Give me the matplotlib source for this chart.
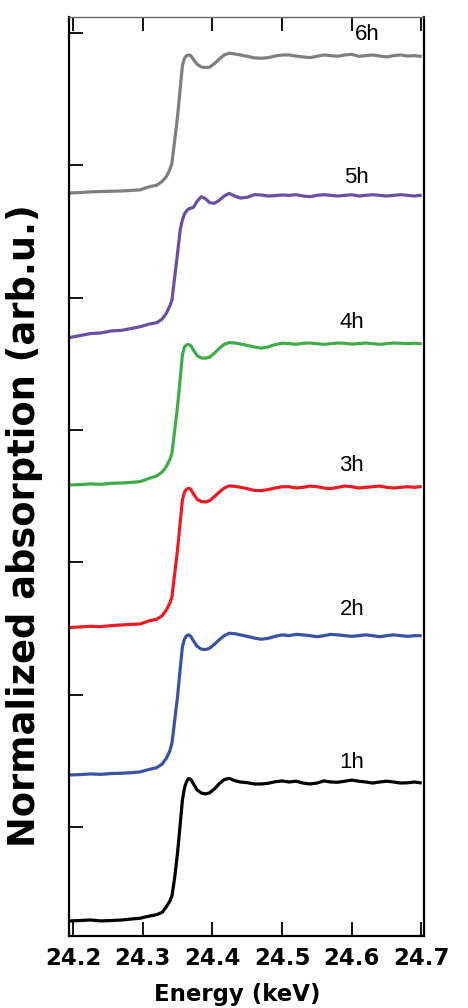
import matplotlib
matplotlib.use('Agg')
import matplotlib.pyplot as plt
import numpy as np

# energy grid (keV): pre-edge, edge region, plateau
energy = [24.195, 24.21, 24.225, 24.24, 24.255, 24.27, 24.285,
          24.296, 24.31, 24.32, 24.328, 24.334, 24.339, 24.342, 24.346, 24.35, 24.354,
          24.357, 24.36, 24.363, 24.366, 24.369, 24.373, 24.378, 24.384, 24.39, 24.396,
          24.403, 24.41, 24.417, 24.424, 24.432, 24.44, 24.45, 24.46, 24.47, 24.48,
          24.49, 24.50,
          24.51, 24.52, 24.53, 24.54, 24.55, 24.56, 24.57, 24.58, 24.59, 24.60,
          24.61, 24.62, 24.63, 24.64, 24.65, 24.66, 24.67, 24.68, 24.69, 24.698]

# normalized absorption of each sample (before stacking)
mu_1h = [-0.02, -0.017, -0.013, -0.02, -0.017, -0.013, -0.005,
         0.0, 0.017, 0.027, 0.045, 0.088, 0.13, 0.17, 0.31, 0.494, 0.72,
         0.894, 0.985, 1.035, 1.056, 1.05, 1.015, 0.97, 0.947, 0.94, 0.948,
         0.978, 1.018, 1.048, 1.058, 1.04, 1.03, 1.025, 1.015, 1.015, 1.02,
         1.032, 1.038,
         1.030, 1.036, 1.022, 1.015, 1.022, 1.038, 1.030, 1.028, 1.036, 1.044,
         1.036, 1.030, 1.022, 1.030, 1.036, 1.030, 1.022, 1.024, 1.030, 1.024]
mu_2h = [-0.023, -0.02, -0.015, -0.018, -0.012, -0.01, -0.005,
         0.0, 0.02, 0.032, 0.06, 0.104, 0.16, 0.217, 0.393, 0.569, 0.79,
         0.947, 1.005, 1.03, 1.036, 1.025, 0.99, 0.95, 0.928, 0.925, 0.935,
         0.965, 1.0, 1.03, 1.048, 1.045, 1.036, 1.025, 1.012, 1.003, 1.01,
         1.025, 1.036,
         1.030, 1.040, 1.036, 1.030, 1.022, 1.030, 1.040, 1.036, 1.030, 1.025,
         1.030, 1.036, 1.030, 1.022, 1.030, 1.036, 1.030, 1.025, 1.030, 1.030]
mu_3h = [-0.035, -0.03, -0.025, -0.028, -0.02, -0.015, -0.01,
         -0.008, 0.017, 0.028, 0.055, 0.098, 0.15, 0.199, 0.376, 0.552, 0.77,
         0.93, 0.99, 1.011, 1.018, 1.01, 0.975, 0.935, 0.917, 0.915, 0.924,
         0.955, 0.99, 1.02, 1.036, 1.033, 1.026, 1.015, 1.002, 1.0, 1.008,
         1.02, 1.03,
         1.030, 1.020, 1.025, 1.035, 1.030, 1.020, 1.015, 1.025, 1.035, 1.030,
         1.020, 1.025, 1.030, 1.035, 1.025, 1.020, 1.025, 1.030, 1.025, 1.030]
mu_4h = [-0.023, -0.02, -0.015, -0.018, -0.01, -0.008, -0.003,
         0.002, 0.028, 0.045, 0.075, 0.116, 0.17, 0.217, 0.393, 0.569, 0.79,
         0.96, 1.02, 1.036, 1.038, 1.03, 0.995, 0.955, 0.937, 0.935, 0.943,
         0.975, 1.01, 1.04, 1.053, 1.05, 1.043, 1.032, 1.02, 1.011, 1.02,
         1.038, 1.048,
         1.045, 1.040, 1.048, 1.050, 1.045, 1.040, 1.045, 1.050, 1.048, 1.042,
         1.045, 1.050, 1.045, 1.040, 1.045, 1.050, 1.048, 1.045, 1.048, 1.045]
mu_5h = [-0.08, -0.065, -0.05, -0.045, -0.03, -0.025, -0.01,
         0.002, 0.023, 0.032, 0.06, 0.104, 0.16, 0.204, 0.38, 0.557, 0.74,
         0.81, 0.855, 0.878, 0.893, 0.898, 0.905, 0.95, 0.985, 0.97, 0.94,
         0.935, 0.958, 0.99, 1.01, 0.99, 0.975, 0.98, 1.0, 0.998, 0.99,
         0.993, 0.998,
         0.995, 1.000, 0.990, 0.985, 0.995, 1.000, 0.995, 0.990, 0.995, 1.000,
         0.990, 0.995, 1.000, 0.995, 0.990, 0.995, 1.000, 0.995, 0.990, 0.995]
mu_6h = [-0.023, -0.02, -0.015, -0.012, -0.01, -0.008, -0.003,
         0.0, 0.025, 0.035, 0.065, 0.101, 0.155, 0.202, 0.378, 0.554, 0.775,
         0.94, 0.995, 1.015, 1.02, 1.015, 0.985, 0.95, 0.93, 0.925, 0.928,
         0.955, 0.99, 1.02, 1.033, 1.028, 1.02, 1.01, 0.998, 0.995, 1.0,
         1.012, 1.02,
         1.020, 1.012, 1.005, 1.000, 1.010, 1.020, 1.015, 1.010, 1.020, 1.025,
         1.010, 1.015, 1.020, 1.012, 1.005, 1.015, 1.020, 1.012, 1.015, 1.010]

labels = ['1h', '2h', '3h', '4h', '5h', '6h']
offsets = [0.0, 1.106, 2.232, 3.298, 4.469, 5.505]
label_x = [24.60, 24.60, 24.60, 24.60, 24.607, 24.622]
label_y = [1.181, 2.330, 3.419, 4.500, 5.596, 6.677]
colors = ['black', '#3a53a4', '#ed1c24', '#3fae49', '#6a4fa3', '#7f7f7f']

fig = plt.figure(figsize=(4.68, 10.08), dpi=100)
ax = fig.add_axes([69 / 468, 1 - 936 / 1008, 355 / 468, 919 / 1008])

spectra = [mu_1h, mu_2h, mu_3h, mu_4h, mu_5h, mu_6h]
for i in range(len(spectra)):
    y = np.array(spectra[i]) + offsets[i]
    ax.plot(energy, y, color=colors[i], lw=2.3, solid_joinstyle='round')
    ax.text(label_x[i], label_y[i], labels[i], fontsize=16,
            family='Liberation Sans', ha='center', va='center')

ax.set_xlim(24.1943, 24.7036)
ax.set_ylim(-0.134, 6.812)
ax.set_xticks([24.2, 24.3, 24.4, 24.5, 24.6, 24.7])
ax.set_xticklabels(['24.2', '24.3', '24.4', '24.5', '24.6', '24.7'],
                   fontsize=16.5, fontweight='bold')
ax.set_yticks(0.69 + np.arange(7))
ax.set_yticklabels([])

ax.tick_params(axis='x', direction='in', length=10, width=1.3, top=True, pad=8)
ax.tick_params(axis='y', direction='in', length=10, width=1.3, right=False)

for side in ['left', 'right', 'bottom']:
    ax.spines[side].set_linewidth(1.6)
    ax.spines[side].set_color('black')
ax.spines['top'].set_linewidth(1.0)
ax.spines['top'].set_color('#666666')

ax.set_xlabel('Energy (keV)', fontsize=16.5, fontweight='bold')
ax.xaxis.set_label_coords(0.473, -0.051)
ax.set_ylabel('Normalized absorption (arb.u.)', fontsize=26.5, fontweight='bold')
ax.yaxis.set_label_coords(-0.073, 0.447)

fig.savefig('out.png', dpi=100)
